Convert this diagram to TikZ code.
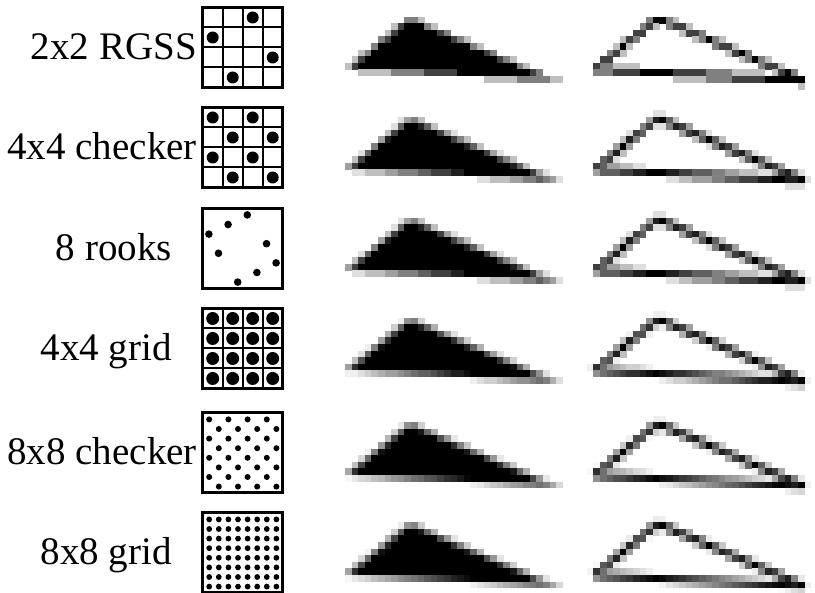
\documentclass[tikz,border=0pt]{standalone}
\usepackage{fontspec}
\setmainfont{Liberation Serif}

\tikzset{
  boxframe/.style={line width=3pt},
  cellline/.style={line width=2pt},
  dot/.style={fill=black},
}

\begin{document}
\begin{tikzpicture}[x=1pt, y=-1pt, font=\fontsize{39}{41}\selectfont]
  \useasboundingbox (0,0) rectangle (815,593);

  % pattern names
  \foreach \r/\yc/\xe/\lab in {0/47.5/197/2x2 RGSS, 1/147.5/197/4x4 checker,
      2/248.5/172/8 rooks, 3/348.5/172/4x4 grid, 4/453/197/8x8 checker, 5/553/172/8x8 grid}
    \node[anchor=base east, inner sep=0pt] (lbl\r) at (\xe,\yc+12) {\lab};

  % 2x2 RGSS
  \begin{scope}[shift={(242.7,47.5)}, x=20pt, y=-20pt]
    \foreach \k in {-1,0,1} {
      \draw[cellline] (\k,-2) -- (\k,2);
      \draw[cellline] (-2,\k) -- (2,\k);
    }
    \draw[boxframe] (-2,-2) rectangle (2,2);
    \foreach \cx/\cy in {0.5/-1.5, -1.5/-0.5, 1.5/0.5, -0.5/1.5}
      \fill[dot] (\cx,\cy) circle[radius=6pt];
  \end{scope}

  % 4x4 checker
  \begin{scope}[shift={(242.7,147.5)}, x=20pt, y=-20pt]
    \foreach \k in {-1,0,1} {
      \draw[cellline] (\k,-2) -- (\k,2);
      \draw[cellline] (-2,\k) -- (2,\k);
    }
    \draw[boxframe] (-2,-2) rectangle (2,2);
    \foreach \cx/\cy in {-1.5/-1.5, 0.5/-1.5, -0.5/-0.5, 1.5/-0.5,
        -1.5/0.5, 0.5/0.5, -0.5/1.5, 1.5/1.5}
      \fill[dot] (\cx,\cy) circle[radius=6pt];
  \end{scope}

  % 8 rooks
  \begin{scope}[shift={(242.5,248.5)}]
    \draw[boxframe] (-40,-40) rectangle (40,40);
    \begin{scope}[x=9.6pt, y=-9.6pt]
      \foreach \k [count=\i from 0] in {4,2,0,6,1,7,5,3}
        \fill[dot] (\k-3.5,\i-3.5) circle[radius=3.8pt];
    \end{scope}
  \end{scope}

  % 4x4 grid
  \begin{scope}[shift={(242.7,348.5)}, x=20pt, y=-20pt]
    \foreach \k in {-1,0,1} {
      \draw[cellline] (\k,-2) -- (\k,2);
      \draw[cellline] (-2,\k) -- (2,\k);
    }
    \draw[boxframe] (-2,-2) rectangle (2,2);
    \foreach \cx in {-1.5,-0.5,0.5,1.5}
      \foreach \cy in {-1.5,-0.5,0.5,1.5}
        \fill[dot] (\cx,\cy) circle[radius=6.5pt];
  \end{scope}

  % 8x8 checker
  \begin{scope}[shift={(242.8,453)}]
    \draw[boxframe] (-40,-40) rectangle (40,40);
    \begin{scope}[x=9.6pt, y=-9.6pt]
      \foreach \i in {0,...,7}
        \foreach \j in {0,...,3}
          \fill[dot] ({2*\j+mod(\i,2)-3.5},\i-3.5) circle[radius=3pt];
    \end{scope}
  \end{scope}

  % 8x8 grid
  \begin{scope}[shift={(242.8,553)}]
    \draw[boxframe] (-40,-40) rectangle (40,40);
    \begin{scope}[x=9.6pt, y=-9.6pt]
      \foreach \i in {0,...,7}
        \foreach \k in {0,...,7}
          \fill[dot] (\k-3.5,\i-3.5) circle[radius=2.9pt];
    \end{scope}
  \end{scope}

  % rendered triangles, one pixel at a time
  \foreach \i in {-1,...,34} {
    \foreach \j in {-1,...,11} {
      \pgfmathsetmacro\px{\i+0.5}
      \pgfmathsetmacro\py{\j+0.5}
      \pgfmathsetmacro\da{0.6306*(\px)+0.7761*(\py)-6.335}
      \pgfmathsetmacro\db{3.671-0.3934*(\px)+0.9193*(\py)}
      \pgfmathsetmacro\dc{0.05338*(\px)-0.99857*(\py)+7.978}
      \pgfmathsetmacro\cf{max(0,min(1,0.5+(\da)/1.407))*max(0,min(1,0.5+(\db)/1.313))*max(0,min(1,0.5+(\dc)/1.052))}
      \pgfmathsetmacro\ta{-0.7761*(\px-9.8)+0.6306*(\py-0.2)}
      \pgfmathsetmacro\tb{0.9193*(\px-9.8)+0.3934*(\py-0.2)}
      \pgfmathsetmacro\tc{0.99859*(\px-0.2)+0.05338*(\py-8)}
      \pgfmathsetmacro\ga{max(0,1-abs(\da))*max(0,min(1,0.5+min(\ta,12.37-(\ta))))}
      \pgfmathsetmacro\gb{max(0,1-abs(\db))*max(0,min(1,0.5+min(\tb,24.15-(\tb))))}
      \pgfmathsetmacro\gc{max(0,1-abs(\dc))*max(0,min(1,0.5+min(\tc,31.845-(\tc))))}
      \pgfmathsetmacro\co{min(1,max(\ga,\gb,\gc))}
      \foreach \yc/\n in {47.5/4, 147.5/8, 248.5/8, 348.5/16, 453/32, 553/64} {
        \pgfmathsetmacro\qf{round(\cf*\n)*100/\n}
        \pgfmathsetmacro\qo{round(\co*\n)*100/\n}
        \ifdim\qf pt>0.5pt \fill[black!\qf] (345+\i*6.6,\yc-30.8+\j*6.6) rectangle ++(6.9,6.9); \fi
        \ifdim\qo pt>0.5pt \fill[black!\qo] (593.3+\i*6.6,\yc-30.8+\j*6.6) rectangle ++(6.9,6.9); \fi
      }
    }
  }
\end{tikzpicture}
\end{document}
